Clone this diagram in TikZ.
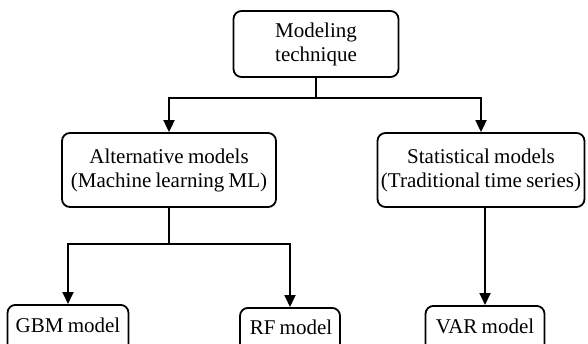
\documentclass[tikz,border=0pt]{standalone}
\usepackage{fontspec}
\setmainfont{Liberation Serif}
\usetikzlibrary{arrows.meta}
\newcommand\mytxtfont{\fontsize{21}{24}\selectfont\spaceskip=0.2em plus 0.05em minus 0.05em\relax}
\begin{document}
\begin{tikzpicture}[x=1pt,y=-1pt,
  txt/.style={font=\mytxtfont},
  box/.style={draw=black, line width=1.8pt, rounded corners=8pt, inner sep=0pt,
    align=center, txt},
  arr/.style={line width=1.8pt, -{Triangle[length=12pt,width=11pt]}}]
\useasboundingbox (0,0) rectangle (588,343);
\clip (0,0) rectangle (588,343);
\fill[white] (0,0) rectangle (588,343);
\node[box, minimum width=165pt, minimum height=66pt] (top) at (316,44) {Modeling\\technique};
\node[box, minimum width=214pt, minimum height=74pt] (alt) at (169,170) {Alternative models\\(Machine learning ML)};
\node[box, minimum width=207pt, minimum height=74pt] (stat) at (481,170) {Statistical models\\(Traditional time series)};
\node[box, minimum width=121pt, minimum height=50pt, anchor=north] (gbm) at (68,304) {};
\node[txt] (gbmt) at (68,325) {GBM model};
\node[box, minimum width=100pt, minimum height=50pt, anchor=north] (rf) at (290,307) {};
\node[txt] (rft) at (291,327) {RF model};
\node[box, minimum width=119pt, minimum height=50pt, anchor=north] (var) at (485,305) {};
\node[txt] (vart) at (485,326) {VAR model};
\draw[arr] (top.south) -- ++(0,20) -| (alt.north);
\draw[arr] (top.south) -- ++(0,20) -| (stat.north);
\draw[arr] (alt.south) -- ++(0,36) -| (gbm.north);
\draw[arr] (alt.south) -- ++(0,36) -| (rf.north);
\draw[arr] (stat.south -| var.north) -- (var.north);
\end{tikzpicture}
\end{document}
